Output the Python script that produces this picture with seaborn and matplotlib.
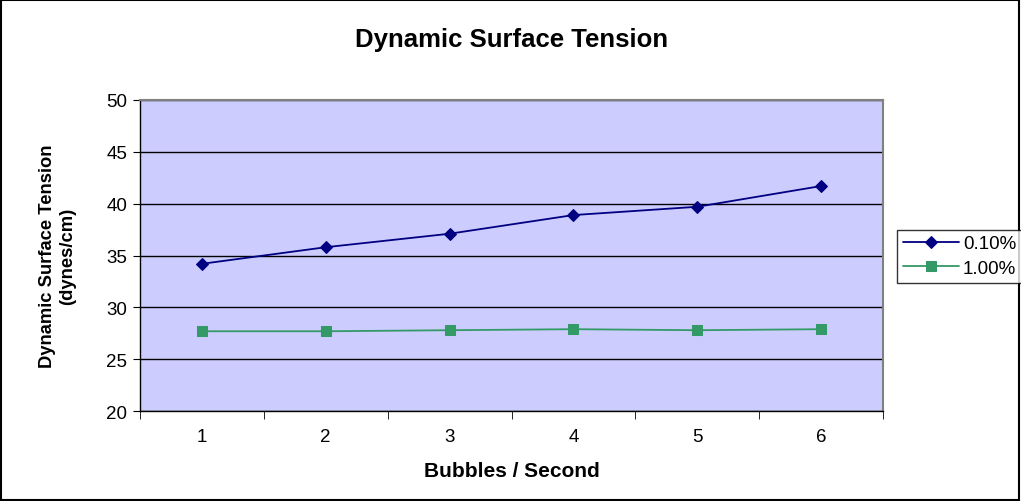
import pandas as pd
import matplotlib.pyplot as plt
import seaborn as sns
from matplotlib.patches import Rectangle

bubbles = [1, 2, 3, 4, 5, 6]
tension_010 = [34.2, 35.8, 37.1, 38.9, 39.7, 41.7]
tension_100 = [27.7, 27.7, 27.8, 27.9, 27.8, 27.9]
series_names = ['0.10%', '1.00%']

df = pd.DataFrame({
    'Bubbles': bubbles * 2,
    'Tension': tension_010 + tension_100,
    'Series': [series_names[0]] * 6 + [series_names[1]] * 6,
})

sns.set_style('white')
plt.rcParams['font.family'] = ['Liberation Sans', 'DejaVu Sans']
plt.rcParams['text.color'] = 'black'
plt.rcParams['axes.labelcolor'] = 'black'
plt.rcParams['xtick.color'] = 'black'
plt.rcParams['ytick.color'] = 'black'

fig = plt.figure(figsize=(10.21, 5.02), dpi=100)
ax = fig.add_axes([0.137, 0.179, 0.728, 0.620])
ax.set_facecolor('#CCCCFF')

colors = {'0.10%': '#000080', '1.00%': '#339966'}
markers = {'0.10%': 'D', '1.00%': 's'}
sizes = {'0.10%': 6, '1.00%': 7}
for name in series_names:
    sub = df[df['Series'] == name]
    sns.lineplot(x='Bubbles', y='Tension', data=sub, ax=ax, color=colors[name],
                 marker=markers[name], markersize=sizes[name], markeredgecolor=colors[name],
                 linewidth=1.3, label=name, zorder=3)

ax.set_xlim(0.5, 6.5)
ax.set_ylim(20, 50)
ax.set_yticks(range(20, 51, 5))
ax.set_xticks(bubbles)
ax.set_xticks([b + 0.5 for b in [0] + bubbles], minor=True)
ax.tick_params(axis='x', which='major', length=0, labelsize=13.5, pad=12)
ax.tick_params(axis='x', which='minor', length=6, direction='out', color='black', bottom=True)
ax.tick_params(axis='y', length=5, direction='out', color='black', left=True, labelsize=13.5, pad=4)
ax.yaxis.grid(True, color='black', linewidth=1)
ax.set_axisbelow(True)
for side in ['top', 'right']:
    ax.spines[side].set_color('#808080')
    ax.spines[side].set_linewidth(1.5)
for side in ['left', 'bottom']:
    ax.spines[side].set_color('black')
    ax.spines[side].set_linewidth(1)

ax.set_title('Dynamic Surface Tension', fontsize=18.5, fontweight='bold', pad=39)
ax.set_xlabel('Bubbles / Second', fontsize=15, fontweight='bold', labelpad=12)
ax.set_ylabel('Dynamic Surface Tension\n(dynes/cm)', fontsize=13.2, fontweight='bold', labelpad=22)

ax.get_legend().remove()
handles, labels = ax.get_legend_handles_labels()
leg = fig.legend(handles, labels, loc='center left', bbox_to_anchor=(0.879, 0.488),
                 fontsize=13.5, frameon=True, fancybox=False, edgecolor='black',
                 handlelength=3.0, handletextpad=0.2, borderpad=0.3, labelspacing=0.4,
                 borderaxespad=0)
leg.get_frame().set_linewidth(1)

fig.patches.append(Rectangle((0.001, 0.001), 0.997, 0.997, transform=fig.transFigure,
                             fill=False, edgecolor='black', linewidth=1.5))

fig.savefig('out.png', dpi=100)
